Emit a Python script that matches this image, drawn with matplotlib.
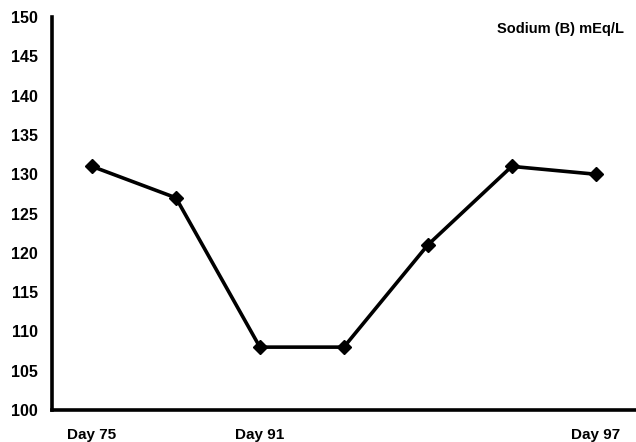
import matplotlib.pyplot as plt

days = ['Day 75', '', 'Day 91', '', '', '', 'Day 97']
sodium = [131, 127, 108, 108, 121, 131, 130]
y_ticks = list(range(100, 151, 5))

plt.rcParams['font.family'] = ['Liberation Sans', 'DejaVu Sans']
plt.rcParams['font.weight'] = 'bold'

fig = plt.figure(figsize=(6.36, 4.42), dpi=100)
ax = fig.add_axes([0.0818, 0.0724, 0.9182, 0.889])

x = range(len(sodium))
ax.plot(x, sodium, color='black', linewidth=2.6, marker='D', markersize=7)

ax.set_xlim(-0.476, 6.48)
ax.set_ylim(100, 150)
ax.set_yticks(y_ticks)
ax.set_yticklabels([str(v) for v in y_ticks], fontsize=11.5, fontweight='bold')
ax.set_xticks(list(x))
ax.set_xticklabels(days, fontsize=11, fontweight='bold')
ax.tick_params(axis='y', length=0, pad=10)
ax.tick_params(axis='x', length=0, pad=13)

for side in ['top', 'right']:
    ax.spines[side].set_visible(False)
for side in ['left', 'bottom']:
    ax.spines[side].set_linewidth(2.6)

ax.text(0.98, 0.97, 'Sodium (B) mEq/L', transform=ax.transAxes,
        ha='right', va='center', fontsize=10.5, fontweight='bold')

fig.savefig('out.png', dpi=100)
